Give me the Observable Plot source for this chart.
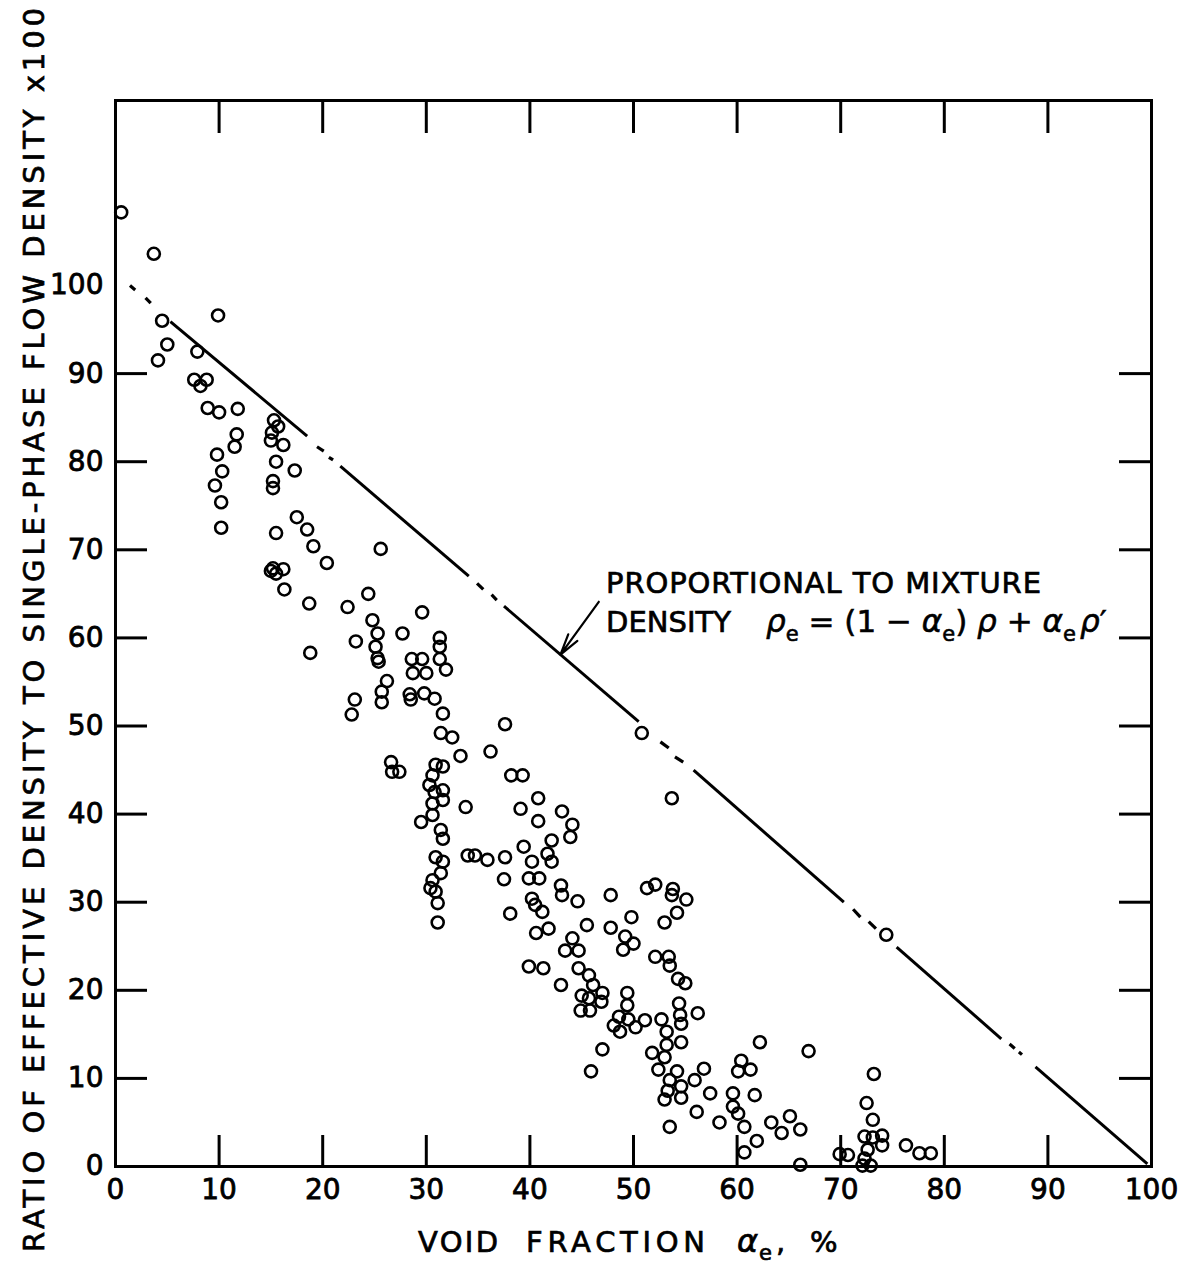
<!DOCTYPE html>
<html><head><meta charset="utf-8">
<script src="https://cdn.jsdelivr.net/npm/d3@7"></script>
<script src="https://cdn.jsdelivr.net/npm/@observablehq/plot@0.6"></script>
<style>html,body{margin:0;padding:0;background:#fff} svg{display:block}</style>
</head><body><div id="chart"></div>
<script>
// ---- data ----
const voidFraction = [
  0.55,3.7,9.9,4.5,5.0,4.1,7.9,7.6,8.8,8.2,
  8.9,10.0,11.8,11.7,11.5,15.3,15.1,15.7,16.2,15.5,
  17.3,9.8,10.3,15.0,9.6,10.2,10.2,15.2,15.2,17.5,
  18.5,19.1,20.4,15.5,25.6,15.2,16.2,15.5,15.0,16.3,
  18.7,22.4,24.4,18.8,23.2,24.8,25.3,25.1,25.3,25.4,
  26.2,25.7,23.1,27.7,29.6,31.3,31.3,28.6,29.6,28.7,
  30.0,31.3,31.9,25.7,22.8,28.4,28.5,29.8,30.8,31.6,
  37.6,31.4,32.5,33.3,36.2,26.6,26.7,27.4,30.9,31.6,
  30.6,30.3,30.8,31.6,30.6,31.6,30.6,31.4,31.6,29.5,
  33.8,38.2,39.3,40.8,39.1,40.8,43.1,44.1,43.9,42.1,
  39.4,30.9,31.6,31.4,30.6,30.4,30.9,31.1,31.1,34.0,
  34.7,35.9,37.6,37.5,38.1,40.2,39.9,40.9,41.7,42.1,
  40.2,40.5,41.2,40.6,41.8,43.0,43.1,44.6,47.8,45.5,
  44.1,43.4,44.7,47.8,49.2,49.8,50.0,49.0,39.9,41.3,
  43.0,44.7,45.7,46.1,47.0,45.0,45.7,46.9,44.9,45.8,
  49.4,49.4,48.6,49.5,48.1,48.7,50.2,47.0,45.9,51.3,
  52.1,53.8,53.7,55.1,54.2,53.0,52.1,53.4,53.5,54.3,
  55.0,51.1,52.7,54.4,54.5,54.6,56.2,53.2,53.2,54.6,
  51.8,53.0,52.4,54.2,53.5,54.6,53.3,53.0,54.6,55.9,
  56.8,57.4,62.2,66.9,60.4,60.1,61.3,59.6,59.6,61.7,
  56.1,53.5,60.1,60.7,58.3,61.9,60.7,63.3,64.3,65.1,
  66.1,66.1,73.2,72.5,73.1,72.3,73.1,74.0,72.6,74.0,
  72.3,72.1,72.9,69.9,70.7,76.3,77.6,78.7,50.8,53.7,
  74.4
];
const densityRatio = [
  108.3,103.6,96.6,96.0,93.3,91.5,92.5,89.3,89.3,88.6,
  86.1,85.6,86.0,83.1,81.7,84.7,83.3,84.0,81.9,80.0,
  79.0,80.8,78.9,82.4,77.3,75.4,72.5,77.8,77.0,73.7,
  72.3,70.4,68.5,71.9,70.1,67.9,67.8,67.3,67.6,65.5,
  63.9,63.5,65.0,58.3,59.6,62.0,60.5,59.0,57.7,57.3,
  55.1,53.9,53.0,60.5,62.9,60.0,59.0,57.6,57.6,56.0,
  56.0,57.6,56.4,52.7,51.3,53.6,53.0,53.7,53.1,51.4,
  50.2,49.2,48.7,46.6,47.1,45.9,44.8,44.8,45.6,45.4,
  44.4,43.3,42.5,42.7,41.2,41.6,39.9,38.2,37.2,39.1,
  40.8,44.4,44.4,41.8,40.6,39.2,40.3,38.8,37.4,37.0,
  36.3,35.1,34.6,33.3,32.5,31.6,31.2,29.9,27.7,35.3,
  35.3,34.8,35.1,32.6,28.7,34.6,32.7,32.7,35.5,34.6,
  30.4,29.7,28.9,26.5,27.0,31.9,30.8,30.1,30.8,27.4,
  25.9,24.5,24.5,27.1,26.1,28.3,25.3,24.6,22.7,22.5,
  20.6,22.5,21.7,20.6,19.7,19.4,19.1,18.7,17.7,17.7,
  19.7,18.3,17.0,16.7,16.0,15.3,15.8,13.3,10.8,31.6,
  32.0,31.5,30.8,30.3,28.8,27.7,23.8,23.8,22.8,21.3,
  20.8,16.6,16.7,18.5,17.2,16.2,17.4,15.3,13.8,14.1,
  12.9,12.4,11.0,10.8,9.8,9.1,8.6,7.6,7.8,9.8,
  11.1,8.3,14.1,13.1,12.0,10.8,11.0,8.3,6.8,8.1,
  6.2,4.5,6.0,4.5,5.0,2.9,1.6,5.0,3.8,5.7,
  4.2,0.2,10.5,7.2,5.3,3.4,3.3,3.5,1.9,2.4,
  0.9,0.1,0.1,1.4,1.3,2.4,1.5,1.5,49.2,41.8,
  26.3
];
const xTicks = [0,10,20,30,40,50,60,70,80,90,100];
const yTicks = [0,10,20,30,40,50,60,70,80,90,100];
const innerTicks = [10,20,30,40,50,60,70,80,90];
// mixture-density line: solid pieces and the short dashes between them [x1,y1,x2,y2]
const lineSolid = [
  [5.3,95.9,18.5,82.9],[21.7,79.5,34.1,67.0],[37.5,63.6,50.5,50.5],
  [55.8,45.0,70.3,30.0],[75.4,24.9,85.5,14.5],[88.8,11.3,99.6,0.3]
];
const lineDashes = [
  [1.4,100.0,1.9,99.5],[2.9,98.6,3.4,98.0],[19.45,81.7,20.1,81.2],[20.6,80.5,21.0,80.2],
  [34.9,66.2,35.5,65.5],[36.3,64.9,36.8,64.3],[52.6,48.2,53.4,47.5],[54.0,46.5,54.8,45.9],
  [71.2,29.2,71.9,28.3],[72.7,27.8,73.4,27.0],[86.3,13.9,86.8,13.4],[87.2,13.0,87.5,12.7]
];
const pointer = [[46.65,64.1,42.95,58.1]];
const yLabel = "RATIO OF EFFECTIVE DENSITY TO SINGLE-PHASE FLOW DENSITY x100";
const noteLine1 = "PROPORTIONAL TO MIXTURE";
const noteLine2 = "DENSITY";

const points = voidFraction.map((x, i) => ({x, y: densityRatio[i]}));

const W = 1182, H = 1272, mL = 115, mR = 31, mT = 100, mB = 106;
const innerW = W - mL - mR, innerH = H - mT - mB;
const FONT = "DejaVu Sans";

const plot = Plot.plot({
  width: W, height: H,
  marginLeft: mL, marginRight: mR, marginTop: mT, marginBottom: mB,
  x: {domain: [0, 100]},
  y: {domain: [0, 121]},
  style: {fontFamily: FONT, background: "white", color: "black"},
  marks: [
    Plot.frame({stroke: "black", strokeWidth: 3}),
    Plot.ruleX(innerTicks, {x: d => d, insetTop: innerH - 31, strokeWidth: 3}),
    Plot.ruleX(innerTicks, {x: d => d, insetBottom: innerH - 33, strokeWidth: 3}),
    Plot.ruleY(innerTicks, {y: d => d, insetRight: innerW - 32, strokeWidth: 3}),
    Plot.ruleY(innerTicks, {y: d => d, insetLeft: innerW - 32, strokeWidth: 3}),
    Plot.axisX({ticks: xTicks, tickSize: 0, tickPadding: 13, fontSize: 28, label: null, tickFormat: d => String(d)}),
    Plot.axisY({ticks: yTicks, tickSize: 0, tickPadding: 12, fontSize: 28, label: null, tickFormat: d => String(d)}),
    Plot.link(lineSolid, {x1: d => d[0], y1: d => d[1], x2: d => d[2], y2: d => d[3], stroke: "black", strokeWidth: 3}),
    Plot.link(lineDashes, {x1: d => d[0], y1: d => d[1], x2: d => d[2], y2: d => d[3], stroke: "black", strokeWidth: 3.2}),
    Plot.arrow(pointer, {x1: d => d[0], y1: d => d[1], x2: d => d[2], y2: d => d[3], stroke: "black", strokeWidth: 2.2, headLength: 16, headAngle: 30}),
    Plot.dot(points, {x: "x", y: "y", r: 6, stroke: "black", strokeWidth: 2.6, fill: "none"})
  ]
});

const svg = d3.select(plot);
// heavier lettering like the drafted original
svg.selectAll("g[aria-label='x-axis tick label'] text, g[aria-label='y-axis tick label'] text")
  .attr("stroke", "black").attr("stroke-width", 0.8);

function addText(x, y, str, size, len, extra) {
  const t = svg.append("text").attr("x", x).attr("y", y)
    .attr("text-anchor", "start")
    .attr("font-family", FONT).attr("font-size", size)
    .attr("stroke", "black").attr("stroke-width", 0.7).text(str);
  if (len) t.attr("textLength", len).attr("lengthAdjust", "spacing");
  if (extra) extra(t);
  return t;
}

// y axis title
svg.append("text")
  .attr("transform", "translate(44,1252) rotate(-90)")
  .attr("text-anchor", "start")
  .attr("font-family", FONT).attr("font-size", 29)
  .attr("stroke", "black").attr("stroke-width", 0.7)
  .attr("textLength", 1244).attr("lengthAdjust", "spacing")
  .text(yLabel);

// x axis title
addText(418, 1252, "VOID", 29, 80);
addText(526, 1252, "FRACTION", 29, 179);
addText(737, 1252, "α", 32, null, t => t.attr("font-style", "italic"));
addText(759, 1260, "e", 21);
addText(776, 1252, ",", 29);
addText(810, 1252, "%", 29, 38);

// annotation
addText(606, 593, noteLine1, 29, 435);
addText(606, 632, noteLine2, 29, 125);
const f = svg.append("text").attr("x", 766).attr("y", 632)
  .attr("text-anchor", "start")
  .attr("font-family", FONT).attr("font-size", 31)
  .attr("stroke", "black").attr("stroke-width", 0.6);
const parts = [
  ["ρ", {it: true}], ["e", {sub: true}], [" = (1 − ", {}], ["α", {it: true}], ["e", {sub: true}],
  [") ", {}], ["ρ", {it: true}], [" + ", {}], ["α", {it: true}], ["e\u2009", {sub: true}], ["ρ", {it: true}], ["′", {}]
];
let shifted = false;
for (const [s, o] of parts) {
  const ts = f.append("tspan").text(s);
  if (o.it) ts.attr("font-style", "italic");
  if (o.sub) { ts.attr("font-size", 21).attr("dy", shifted ? 0 : 9); shifted = true; }
  else if (shifted) { ts.attr("dy", -9); shifted = false; }
}

document.getElementById("chart").appendChild(plot);
</script>
</body></html>
